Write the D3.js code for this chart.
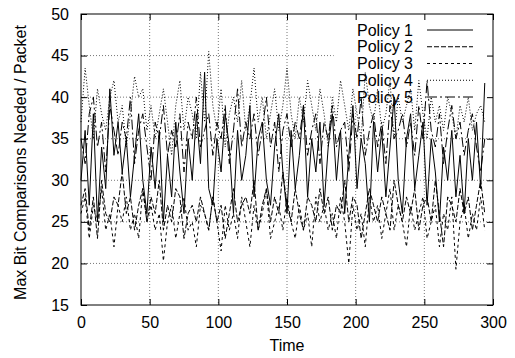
<!DOCTYPE html>
<html lang="en">
  <head>
    <meta charset="utf-8" />
    <title>Max bit comparisons per packet</title>
    <script src="https://cdnjs.cloudflare.com/ajax/libs/d3/7.8.5/d3.min.js"></script>
    <style type="text/css">
      body {
        margin: 0;
        background: #fff;
        overflow: hidden;
      }
      svg {
        display: block;
      }
      text {
        font-family: "Liberation Sans", Arial, Helvetica, sans-serif;
        font-size: 16px;
        fill: #000;
      }
      .grid line {
        stroke: #777;
        stroke-width: 1;
        stroke-dasharray: 1, 2;
      }
      .series {
        fill: none;
        stroke: #000;
        stroke-width: 1;
      }
    </style>
  </head>

  <body>
    <div id="chart"></div>

    <script>
      // sampled every 3 time units (0 .. 294)
      const policy1 = [
        30, 36, 27, 38, 25, 34, 29, 41, 33, 37,
        31, 35, 28, 33, 38, 30, 26, 34, 29, 36,
        25, 33, 28, 37, 31, 26, 35, 30, 38, 32,
        43, 29, 27, 35, 31, 38, 34, 26, 36, 30,
        33, 39, 28, 35, 37, 30, 27, 34, 38, 31,
        26, 36, 29, 33, 39, 28, 35, 31, 37, 27,
        34, 38, 30, 36, 26, 33, 39, 29, 35, 32,
        25, 37, 31, 36, 28, 34, 40, 30, 26, 35,
        38, 29, 33, 37, 27, 35, 31, 25, 34, 30,
        36, 28, 33, 26, 35, 30, 37, 29, 41.7,
      ];
      const policy2 = [
        27, 29, 24, 28, 23, 30, 26, 25, 28, 27,
        31, 26, 28, 24, 27, 29, 25, 28, 26, 30,
        24, 27, 25, 29, 28, 23, 26, 27, 25, 28,
        26, 24, 28, 25, 27, 23, 26, 29, 25, 27,
        28, 26, 30, 24, 27, 29, 25, 28, 26, 31,
        27, 25, 29, 26, 24, 28, 27, 25, 29, 26,
        28, 24, 27, 26, 30, 25, 28, 27, 23, 26,
        29, 27, 25, 28, 26, 24, 30, 27, 25, 28,
        26, 29, 24, 27, 28, 25, 30, 26, 22, 28,
        27, 25, 29, 26, 28, 24, 27, 30, 26,
      ];
      const policy3 = [
        26, 28, 23, 27, 25, 29, 24, 26, 22, 27,
        25, 28, 24, 26, 23, 29, 25, 27, 24, 26,
        20.3, 25, 27, 23, 26, 28, 24, 25, 22, 27,
        26, 24, 28, 25, 21.5, 27, 24, 26, 23, 28,
        25, 22, 27, 24, 26, 29, 23, 25, 27, 24,
        28, 25, 23, 27, 24, 26, 22, 28, 25, 27,
        24, 26, 23, 28, 25, 20, 27, 24, 26, 22,
        28, 25, 27, 23, 26, 29, 24, 27, 25, 22,
        27, 24, 26, 28, 23, 25, 27, 22, 26, 24,
        28, 19.3, 25, 27, 23, 26, 24, 28, 24,
      ];
      const policy4 = [
        37, 43.5, 39, 35, 41, 38, 36, 40, 42, 37,
        39, 34, 38, 42.5, 40, 41, 36, 39, 35, 38,
        41, 37, 33, 39, 42, 36, 40, 38, 35, 43,
        37, 45.5, 39, 36, 41, 34, 38, 40, 37, 42,
        36, 39, 43.5, 37, 40, 35, 38, 41, 36, 39,
        43.5, 38, 35, 40, 37, 42, 39, 36, 41, 38,
        34, 40, 37, 42, 39, 36, 41, 38, 35, 43,
        39, 37, 41, 36, 38, 42, 35, 40, 37, 39,
        41, 36, 42, 38, 35, 40, 37, 39, 36, 40,
        38, 35, 39, 37, 40, 36, 38, 39, 37,
      ];
      const policy5 = [
        35, 32, 38, 40, 34, 37, 31, 39, 36, 33,
        37, 35, 40, 32, 36, 38, 34, 30, 37, 35,
        39, 33, 36, 34, 38, 31, 37, 35, 40, 34,
        36, 38, 33, 37, 35, 39, 32, 36, 41, 34,
        37, 35, 38, 33, 36, 40, 34, 37, 31, 36,
        38, 34, 37, 35, 39, 33, 36, 38, 32, 37,
        35, 39, 34, 36, 37, 31, 38, 35, 40, 33,
        36, 38, 34, 37, 32, 39, 35, 36, 38, 34,
        37, 33, 39, 35, 42, 36, 34, 38, 32, 36,
        39, 35, 37, 33, 36, 38, 34, 31, 35,
      ];
      const seriesNames = ["Policy 1", "Policy 2", "Policy 3", "Policy 4", "Policy 5"];
      const xTicks = [0, 50, 100, 150, 200, 250, 300];
      const yTicks = [15, 20, 25, 30, 35, 40, 45, 50];
      const step = 3;

      const dashes = ["none", "5,2", "3,3", "1,2", "10,3,2,3"];
      const allSeries = [policy1, policy2, policy3, policy4, policy5];

      const outerWidth = 515;
      const outerHeight = 358;
      const margin = { top: 14, right: 22, bottom: 53, left: 81 };
      const innerWidth = outerWidth - margin.left - margin.right;
      const innerHeight = outerHeight - margin.top - margin.bottom;

      const svg = d3
        .select("#chart")
        .append("svg")
        .attr("width", outerWidth)
        .attr("height", outerHeight)
        .append("g")
        .attr("transform", `translate(${margin.left},${margin.top})`);

      const x = d3.scaleLinear().domain([0, 300]).range([0, innerWidth]);
      const y = d3.scaleLinear().domain([15, 50]).range([innerHeight, 0]);

      // grid (interior ticks only)
      const grid = svg.append("g").attr("class", "grid");
      grid
        .selectAll(".gx")
        .data(xTicks.slice(1, -1))
        .join("line")
        .attr("x1", (d) => x(d))
        .attr("x2", (d) => x(d))
        .attr("y1", 0)
        .attr("y2", innerHeight);
      grid
        .selectAll(".gy")
        .data(yTicks.slice(1, -1))
        .join("line")
        .attr("x1", 0)
        .attr("x2", innerWidth)
        .attr("y1", (d) => y(d))
        .attr("y2", (d) => y(d));

      // key area blanks the grid, like gnuplot does
      const keyLeft = x(184);
      const keyBottom = y(38.9);
      svg
        .append("rect")
        .attr("x", keyLeft)
        .attr("y", 0)
        .attr("width", innerWidth - keyLeft)
        .attr("height", keyBottom)
        .attr("fill", "#fff");

      // key
      const rowH = 16.75;
      const key = svg.append("g").attr("transform", `translate(0, ${16})`);
      seriesNames.forEach((name, i) => {
        const ky = i * rowH;
        key
          .append("text")
          .attr("x", 332)
          .attr("y", ky)
          .attr("dy", "0.35em")
          .attr("text-anchor", "end")
          .text(name);
        key
          .append("line")
          .attr("class", "series")
          .attr("x1", 346)
          .attr("x2", 392)
          .attr("y1", ky)
          .attr("y2", ky)
          .attr("stroke-dasharray", dashes[i]);
      });

      // data
      const line = d3
        .line()
        .x((d, i) => x(i * step))
        .y((d) => y(d));

      svg
        .selectAll(".series-path")
        .data(allSeries)
        .join("path")
        .attr("class", "series")
        .attr("stroke-dasharray", (d, i) => dashes[i])
        .attr("d", line);

      // axes: gnuplot style inward ticks on all sides
      const xAxis = d3.axisBottom(x).tickValues(xTicks).tickSize(-6).tickPadding(12);
      const yAxis = d3.axisLeft(y).tickValues(yTicks).tickSize(-6).tickPadding(12);

      const gx = svg
        .append("g")
        .attr("transform", `translate(0, ${innerHeight})`)
        .call(xAxis);
      const gy = svg.append("g").call(yAxis);
      [gx, gy].forEach((g) => {
        g.select(".domain").remove();
        g.selectAll("text").attr("font-size", 16).attr("font-family", null);
        g.selectAll("line").attr("stroke", "#000");
      });

      // mirrored ticks, no labels
      svg
        .append("g")
        .call(d3.axisTop(x).tickValues(xTicks).tickSize(-6))
        .call((g) => g.select(".domain").remove())
        .call((g) => g.selectAll("text").remove());
      svg
        .append("g")
        .attr("transform", `translate(${innerWidth}, 0)`)
        .call(d3.axisRight(y).tickValues(yTicks).tickSize(-6))
        .call((g) => g.select(".domain").remove())
        .call((g) => g.selectAll("text").remove());

      svg
        .append("rect")
        .attr("width", innerWidth)
        .attr("height", innerHeight)
        .attr("fill", "none")
        .attr("stroke", "#000");

      // titles
      svg
        .append("text")
        .attr("x", innerWidth / 2)
        .attr("y", innerHeight + 46)
        .attr("text-anchor", "middle")
        .text("Time");

      svg
        .append("text")
        .attr("transform", `translate(${-55}, ${innerHeight / 2 + 3}) rotate(-90)`)
        .attr("text-anchor", "middle")
        .text("Max Bit Comparisons Needed / Packet");
    </script>
  </body>
</html>
